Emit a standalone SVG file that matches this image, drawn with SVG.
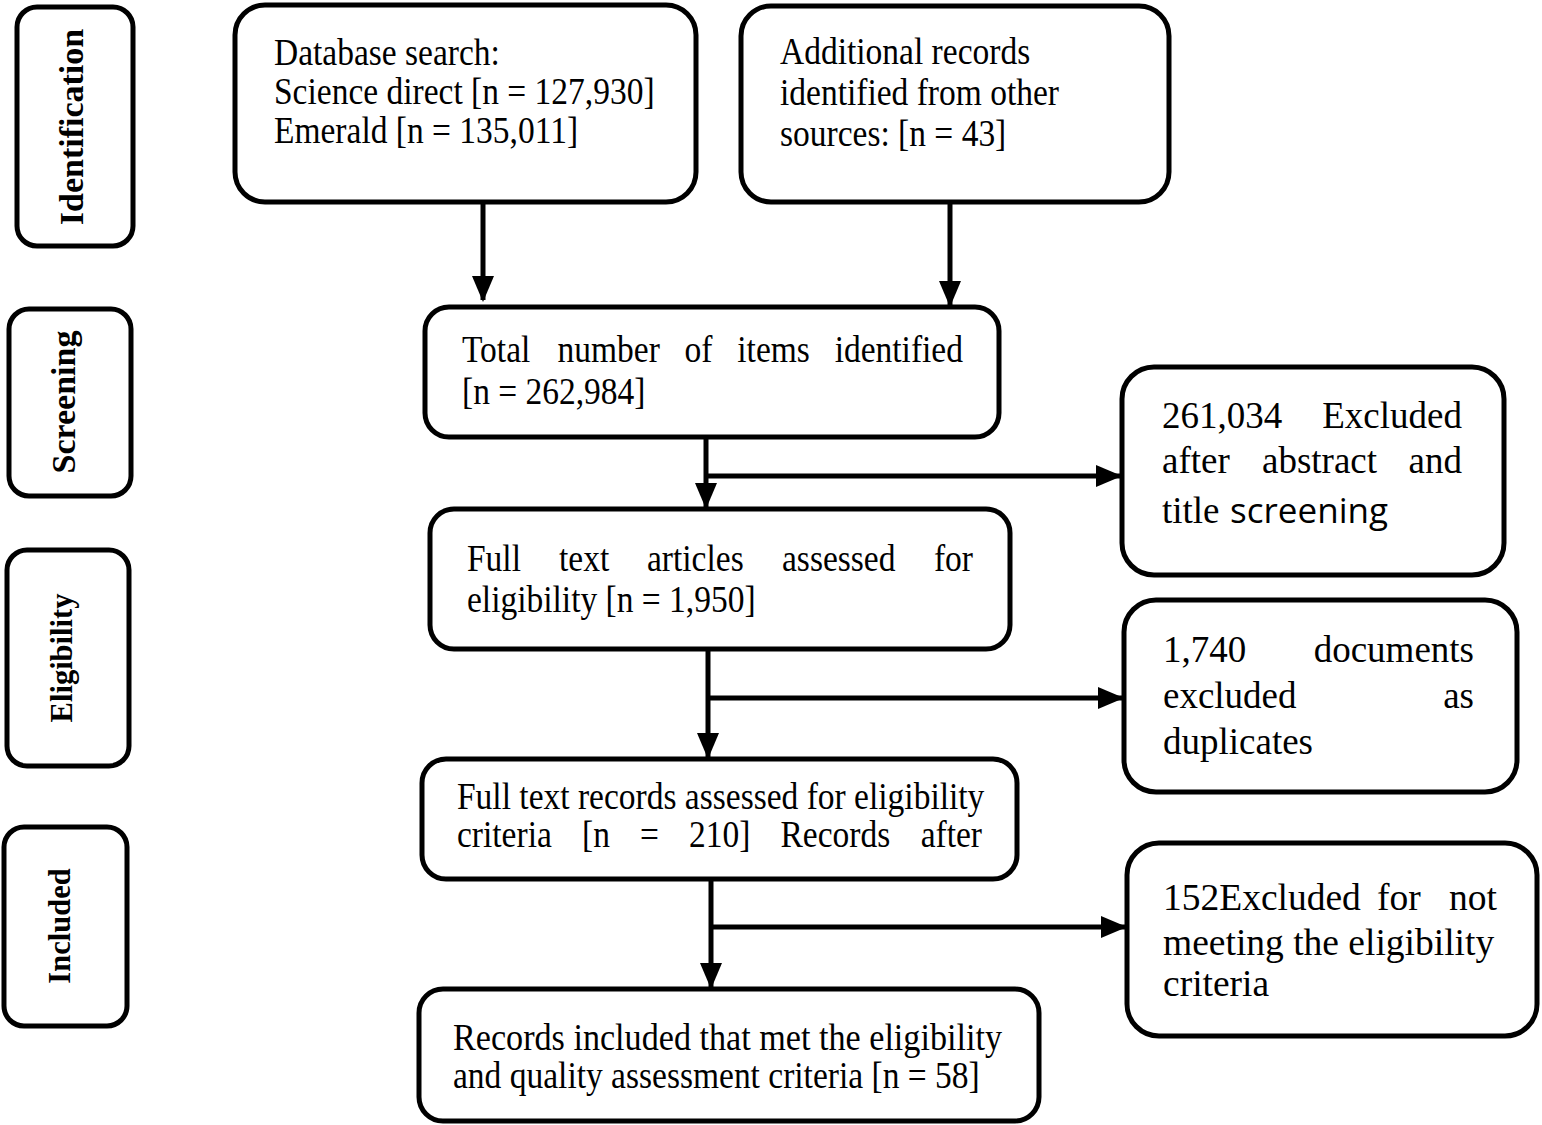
<svg xmlns="http://www.w3.org/2000/svg" width="1542" height="1125" viewBox="0 0 1542 1125">
<style>
.box{fill:#fff;stroke:#000;stroke-width:5}
.t{font-family:'Liberation Serif','Times New Roman',serif;font-size:33.5px;fill:#000}
.x{font-family:'Liberation Serif','Times New Roman',serif;font-size:37px;fill:#000}
.side{font-family:'Liberation Serif','Times New Roman',serif;font-size:34px;font-weight:bold;fill:#000}
.side2{font-family:'Liberation Serif','Times New Roman',serif;font-size:30.5px;font-weight:bold;fill:#000}
.sans{font-family:'Open Sans','Liberation Sans',sans-serif;font-size:34px}
.c{fill:none;stroke:#000;stroke-width:5}
</style>
<defs>
<marker id="ah" markerUnits="userSpaceOnUse" markerWidth="26" markerHeight="22" refX="24" refY="11" orient="auto">
<path d="M0,0 L26,11 L0,22 z" fill="#000"/>
</marker>
</defs>
<rect width="1542" height="1125" fill="#fff"/>

<g id="connectors">
<line class="c" x1="483" y1="202" x2="483" y2="300" marker-end="url(#ah)"/>
<line class="c" x1="950" y1="202" x2="950" y2="305" marker-end="url(#ah)"/>
<line class="c" x1="706" y1="437" x2="706" y2="507" marker-end="url(#ah)"/>
<line class="c" x1="706" y1="476" x2="1120" y2="476" marker-end="url(#ah)"/>
<line class="c" x1="708" y1="649" x2="708" y2="757" marker-end="url(#ah)"/>
<line class="c" x1="708" y1="698" x2="1122" y2="698" marker-end="url(#ah)"/>
<line class="c" x1="711" y1="879" x2="711" y2="987" marker-end="url(#ah)"/>
<line class="c" x1="711" y1="927" x2="1125" y2="927" marker-end="url(#ah)"/>
</g>

<g id="stage-identification">
<rect class="box" x="17" y="7" width="116" height="239" rx="20"/>
<text class="side" transform="translate(83,127) rotate(-90)" text-anchor="middle">Identification</text>
</g>
<g id="stage-screening">
<rect class="box" x="9" y="309" width="122" height="187" rx="20"/>
<text class="side" transform="translate(75,402) rotate(-90)" text-anchor="middle">Screening</text>
</g>
<g id="stage-eligibility">
<rect class="box" x="7" y="550" width="122" height="216" rx="20"/>
<text class="side2" transform="translate(72,658) rotate(-90)" text-anchor="middle">Eligibility</text>
</g>
<g id="stage-included">
<rect class="box" x="4" y="827" width="123" height="199" rx="20"/>
<text class="side2" transform="translate(70,926) rotate(-90)" text-anchor="middle">Included</text>
</g>

<g id="database">
<rect class="box" x="235" y="5" width="461" height="197" rx="30"/>
<text class="t" x="274" y="65" transform="matrix(1 0 0 1.1 0 -6.5)">Database search:</text>
<text class="t" x="274" y="104" transform="matrix(1 0 0 1.1 0 -10.4)">Science direct [n = 127,930]</text>
<text class="t" x="274" y="143" transform="matrix(1 0 0 1.1 0 -14.3)">Emerald [n = 135,011]</text>
</g>

<g id="additional">
<rect class="box" x="741" y="6" width="428" height="196" rx="30"/>
<text class="t" x="780" y="64" transform="matrix(1 0 0 1.1 0 -6.4)">Additional records</text>
<text class="t" x="780" y="105" transform="matrix(1 0 0 1.1 0 -10.5)">identified from other</text>
<text class="t" x="780" y="146" transform="matrix(1 0 0 1.1 0 -14.6)">sources: [n = 43]</text>
</g>

<g id="total">
<rect class="box" x="425" y="307" width="574" height="130" rx="24"/>
<text class="t" y="362" transform="matrix(1 0 0 1.1 0 -36.2)"><tspan x="462">Total</tspan><tspan x="557.5">number</tspan><tspan x="684.6">of</tspan><tspan x="737.3">items</tspan><tspan x="963" text-anchor="end">identified</tspan></text>
<text class="t" x="462" y="404" transform="matrix(1 0 0 1.1 0 -40.4)">[n = 262,984]</text>
</g>

<g id="excluded-screening">
<rect class="box" x="1122" y="367" width="382" height="208" rx="32"/>
<text class="x" y="428"><tspan x="1162">261,034</tspan><tspan x="1462" text-anchor="end">Excluded</tspan></text>
<text class="x" y="473"><tspan x="1162">after</tspan><tspan x="1262">abstract</tspan><tspan x="1462" text-anchor="end">and</tspan></text>
<text class="x" y="523"><tspan x="1162">title</tspan><tspan class="sans" x="1230" textLength="158" lengthAdjust="spacingAndGlyphs">screening</tspan></text>
</g>

<g id="fulltext-articles">
<rect class="box" x="430" y="509" width="580" height="140" rx="24"/>
<text class="t" y="571" transform="matrix(1 0 0 1.1 0 -57.1)"><tspan x="467">Full</tspan><tspan x="559">text</tspan><tspan x="647">articles</tspan><tspan x="782">assessed</tspan><tspan x="973" text-anchor="end">for</tspan></text>
<text class="t" x="467" y="612" transform="matrix(1 0 0 1.1 0 -61.2)">eligibility [n = 1,950]</text>
</g>

<g id="excluded-duplicates">
<rect class="box" x="1124" y="600" width="393" height="192" rx="32"/>
<text class="x" y="662"><tspan x="1163">1,740</tspan><tspan x="1474" text-anchor="end">documents</tspan></text>
<text class="x" y="708"><tspan x="1163">excluded</tspan><tspan x="1474" text-anchor="end">as</tspan></text>
<text class="x" x="1163" y="754">duplicates</text>
</g>

<g id="fulltext-records">
<rect class="box" x="422" y="759" width="595" height="120" rx="24"/>
<text class="t" x="457" y="809" transform="matrix(1 0 0 1.1 0 -80.9)">Full text records assessed for eligibility</text>
<text class="t" y="847" transform="matrix(1 0 0 1.1 0 -84.7)"><tspan x="457">criteria</tspan><tspan x="582">[n</tspan><tspan x="640">=</tspan><tspan x="689">210]</tspan><tspan x="780.5">Records</tspan><tspan x="982" text-anchor="end">after</tspan></text>
</g>

<g id="excluded-criteria">
<rect class="box" x="1127" y="843" width="410" height="193" rx="32"/>
<text class="x" y="910" style="font-size:37.5px"><tspan x="1163">152Excluded</tspan><tspan x="1377">for</tspan><tspan x="1497" text-anchor="end">not</tspan></text>
<text class="x" x="1163" y="955" style="font-size:37.5px">meeting the eligibility</text>
<text class="x" x="1163" y="996" style="font-size:37.5px">criteria</text>
</g>

<g id="records-included">
<rect class="box" x="419" y="989" width="620" height="132" rx="24"/>
<text class="t" x="453" y="1050" textLength="549" lengthAdjust="spacingAndGlyphs" transform="matrix(1 0 0 1.1 0 -105)">Records included that met the eligibility</text>
<text class="t" x="453" y="1088" transform="matrix(1 0 0 1.1 0 -108.8)">and quality assessment criteria [n = 58]</text>
</g>
</svg>
